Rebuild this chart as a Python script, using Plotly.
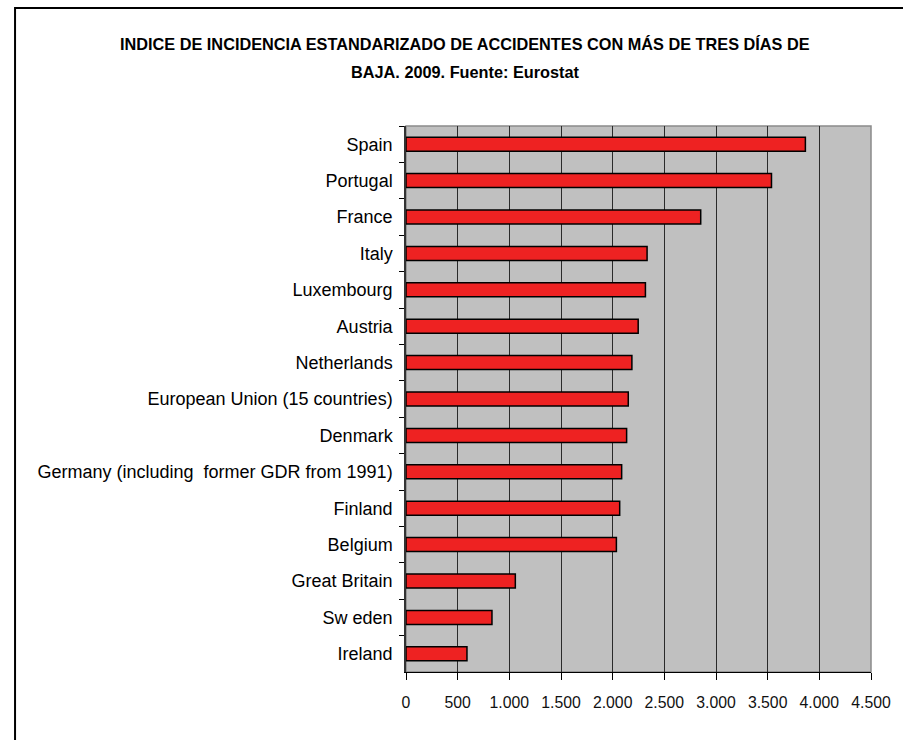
import plotly.graph_objects as go

countries = ["Spain", "Portugal", "France", "Italy", "Luxembourg", "Austria",
             "Netherlands", "European Union (15 countries)", "Denmark",
             "Germany (including  former GDR from 1991)", "Finland", "Belgium",
             "Great Britain", "Sw eden", "Ireland"]
values = [3865, 3537, 2852, 2333, 2317, 2247, 2186, 2151, 2135, 2087, 2068, 2036, 1058, 832, 590]
x_ticks = [0, 500, 1000, 1500, 2000, 2500, 3000, 3500, 4000, 4500]

title_line1 = "INDICE DE INCIDENCIA ESTANDARIZADO DE ACCIDENTES CON MÁS DE TRES DÍAS DE"
title_line2 = "BAJA. 2009. Fuente: Eurostat"

FONT = "Liberation Sans, Arial, sans-serif"

fig = go.Figure(go.Bar(
    x=values, y=countries, orientation="h",
    marker=dict(color="#EE2222", line=dict(color="#000000", width=1.5)),
    hoverinfo="x+y",
))

L, R, T, B = 406, 26, 126, 68
W, H = 903, 740
pw, ph = W - L - R, H - T - B

def px2x(p):
    return (p - L) / pw

def py2y(p):
    return (H - B - p) / ph

fig.update_layout(
    width=W, height=H,
    margin=dict(l=L, r=R, t=T, b=B, pad=0),
    paper_bgcolor="white", plot_bgcolor="#C0C0C0",
    separators=",.",
    bargap=0.615,
    showlegend=False,
    font=dict(family=FONT, color="black"),
    xaxis=dict(range=[0, 4500], tickvals=x_ticks, tickformat=",d",
               showgrid=True, gridcolor="#2A2A2A", gridwidth=1.2,
               showline=True, linecolor="black", linewidth=1,
               ticks="outside", ticklen=7, tickcolor="black", tickwidth=1,
               ticklabelstandoff=9,
               tickfont=dict(size=15.8, family=FONT, color="#111111"),
               zeroline=False, fixedrange=True),
    yaxis=dict(autorange="reversed", type="category",
               tickson="boundaries", ticks="outside", ticklen=5,
               tickcolor="black", tickwidth=1,
               showline=True, linecolor="#333333", linewidth=1.5,
               showgrid=False, ticklabelstandoff=8,
               tickfont=dict(size=18, family=FONT, color="black"),
               fixedrange=True),
    shapes=[
        dict(type="rect", xref="paper", yref="paper", x0=0, x1=1, y0=0, y1=1,
             line=dict(color="#8A8A8A", width=1.5), layer="below"),
        dict(type="rect", xref="paper", yref="paper",
             x0=px2x(10), x1=px2x(935), y0=py2y(760), y1=py2y(8),
             line=dict(color="black", width=2)),
    ],
    annotations=[
        dict(text="<b>" + title_line1 + "</b>", xref="paper", yref="paper",
             x=px2x(466), y=py2y(44), xanchor="center", yanchor="middle",
             showarrow=False, font=dict(size=16.3, family=FONT, color="black")),
        dict(text="<b>" + title_line2 + "</b>", xref="paper", yref="paper",
             x=px2x(466), y=py2y(72), xanchor="center", yanchor="middle",
             showarrow=False, font=dict(size=16.3, family=FONT, color="black")),
    ],
)

fig.write_html("out.html",
               config={"displayModeBar": False},
               post_script="document.body.style.margin='0';document.body.style.overflow='hidden';")
